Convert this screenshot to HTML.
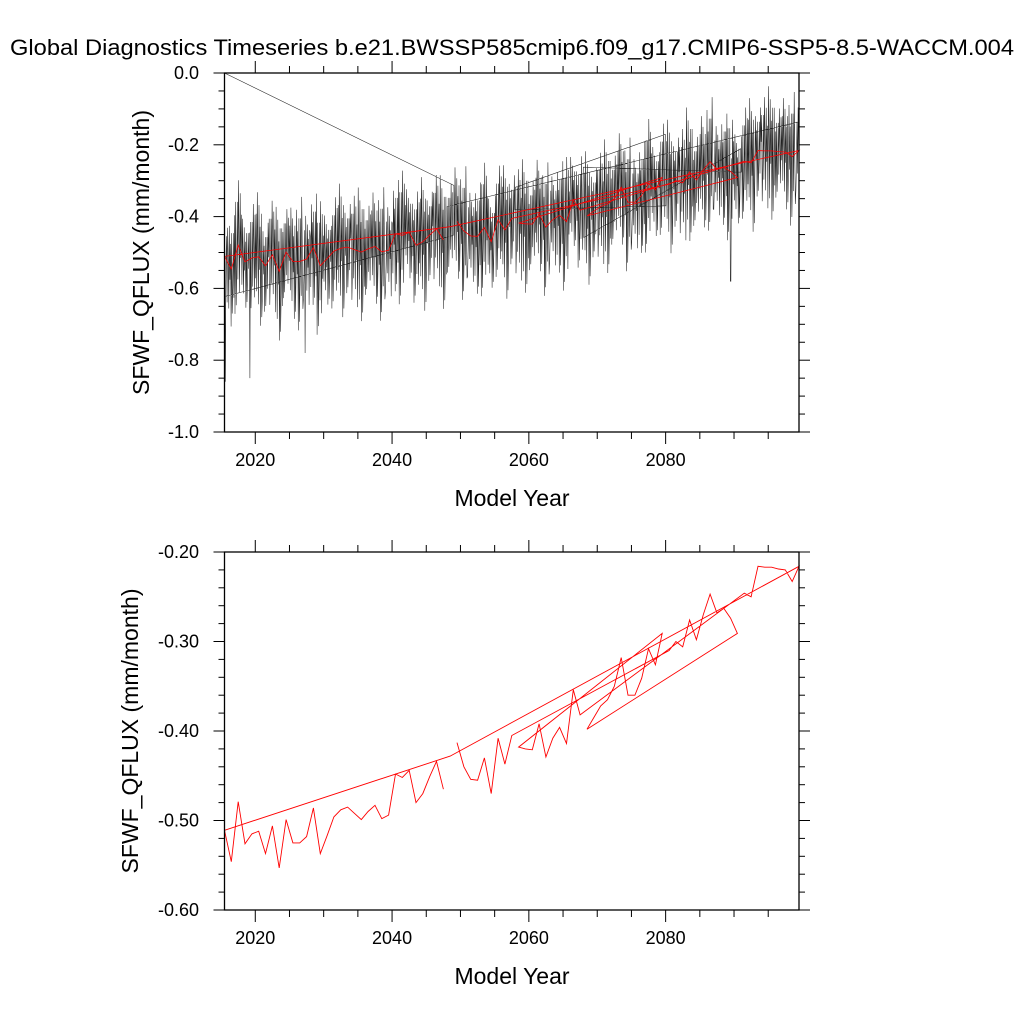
<!DOCTYPE html>
<html><head><meta charset="utf-8">
<style>
html,body{margin:0;padding:0;background:#fff;}
svg{display:block;font-family:"Liberation Sans",Arial,sans-serif;}
</style></head>
<body>
<svg id="chart" width="1024" height="1024" viewBox="0 0 1024 1024" xmlns="http://www.w3.org/2000/svg">
<text x="512" y="55" font-size="22" text-anchor="middle" textLength="1004" lengthAdjust="spacingAndGlyphs">Global Diagnostics Timeseries b.e21.BWSSP585cmip6.f09_g17.CMIP6-SSP5-8.5-WACCM.004</text>
<g id="top"></g>
<g id="bot"></g>
</svg>
<script>
// ---- data ----
const years = [2015.5,2016.5,2017.5,2018.5,2019.5,2020.5,2021.5,2022.5,2023.5,2024.5,2025.5,2026.5,2027.5,2028.5,2029.5,2030.5,2031.5,2032.5,2033.5,2034.5,2035.5,2036.5,2037.5,2038.5,2039.5,2040.5,2041.5,2042.5,2043.5,2044.5,2045.5,2046.5,2047.5,2048.5,2049.5,2050.5,2051.5,2052.5,2053.5,2054.5,2055.5,2056.5,2057.5,2058.5,2059.5,2060.5,2061.5,2062.5,2063.5,2064.5,2065.5,2066.5,2067.5,2068.5,2069.5,2070.5,2071.5,2072.5,2073.5,2074.5,2075.5,2076.5,2077.5,2078.5,2079.5,2080.5,2081.5,2082.5,2083.5,2084.5,2085.5,2086.5,2087.5,2088.5,2089.5,2090.5,2091.5,2092.5,2093.5,2094.5,2095.5,2096.5,2097.5,2098.5,2099.5];
const annualValues = [-0.511,-0.546,-0.479,-0.526,-0.515,-0.512,-0.537,-0.506,-0.553,-0.499,-0.525,-0.525,-0.518,-0.486,-0.537,-0.517,-0.496,-0.488,-0.485,-0.492,-0.499,-0.490,-0.483,-0.498,-0.494,-0.448,-0.452,-0.444,-0.480,-0.470,-0.451,-0.434,-0.465,
-0.428,-0.413,-0.440,-0.454,-0.455,-0.430,-0.470,-0.408,-0.437,-0.405,
-0.418,-0.420,-0.421,-0.392,-0.429,-0.408,-0.396,-0.414,-0.354,-0.382,
-0.398,-0.385,-0.372,-0.365,-0.350,-0.318,-0.360,-0.360,-0.341,-0.308,-0.326,-0.291,
-0.310,-0.300,-0.306,-0.276,-0.298,-0.270,-0.247,-0.268,-0.263,-0.274,-0.291,
-0.246,-0.250,-0.216,-0.217,-0.217,-0.219,-0.220,-0.233,-0.216];
// order in which the file chunks appear (start year, end year)
const chunkStarts = [2049.5,2080.5,2068.5,2058.5,2091.5,2048.5,2015.5];
const chunkEnds   = [2057.5,2090.5,2079.5,2067.5,2099.5,2048.5,2047.5];
// monthly anomaly about the annual mean
const seasonal = [-0.14,-0.05,0.10,-0.08,0.15,0.03,-0.11,0.12,-0.03,0.07,-0.16,0.10];
const extremeTimes = [2015.6,2019.2,2089.5,2027.3,2016.6];
const extremeValues = [-0.86,-0.85,-0.58,-0.78,-0.67];
const firstMonthlyValue = 0.0;
const topTicks = ["0.0","-0.2","-0.4","-0.6","-0.8","-1.0"];
const topTickVals = [0,-0.2,-0.4,-0.6,-0.8,-1.0];
const botTicks = ["-0.20","-0.30","-0.40","-0.50","-0.60"];
const botTickVals = [-0.2,-0.3,-0.4,-0.5,-0.6];
const xTicks = ["2020","2040","2060","2080"];
const xTickVals = [2020,2040,2060,2080];

const NS="http://www.w3.org/2000/svg";
function mk(parent,tag,attrs){const e=document.createElementNS(NS,tag);for(const k in attrs)e.setAttribute(k,attrs[k]);parent.appendChild(e);return e;}

const X0=224.5,X1=799,XMIN=2015.5,XMAX=2099.5;
function sx(t){return X0+(t-XMIN)/(XMAX-XMIN)*(X1-X0);}

function panel(g,top,bottom,ymin,ymax,minorStep,tickLabels,tickVals){
  const sy=v=>top+(ymax-v)/(ymax-ymin)*(bottom-top);
  let tk=mk(g,'g',{stroke:'#000','stroke-width':1});
  
  
  for(let yr=2015;yr<=2100;yr+=5){
    const x=sx(yr); if(x<X0-0.5||x>X1+0.5)continue;
    const L=(yr%20===0)?12:7;
    mk(tk,'line',{x1:x,x2:x,y1:bottom,y2:bottom+L});
    mk(tk,'line',{x1:x,x2:x,y1:top,y2:top-L});
  }
  const n=Math.round((ymax-ymin)/minorStep);
  for(let i=0;i<=n;i++){
    const v=ymin+i*minorStep;const y=sy(v);
    const major=tickVals.some(tv=>Math.abs(tv-v)<1e-6);
    const L=major?11:6;
    mk(tk,'line',{x1:X0,x2:X0-L,y1:y,y2:y});
    mk(tk,'line',{x1:X1,x2:X1+L,y1:y,y2:y});
  }
  for(let i=0;i<tickLabels.length;i++){
    const t=mk(g,'text',{x:199,y:sy(tickVals[i])+6,'font-size':18,'text-anchor':'end'});
    t.textContent=tickLabels[i];
    
    
  }
  for(let i=0;i<xTicks.length;i++){
    const t=mk(g,'text',{x:sx(xTickVals[i]),y:bottom+34,'font-size':18,'text-anchor':'middle'});
    t.textContent=xTicks[i];
    
    
  }
  const xt=mk(g,'text',{x:512,y:bottom+74,'font-size':23,'text-anchor':'middle'});
  xt.textContent='Model Year';
  
  
  const cy=(top+bottom)/2;
  const yt=mk(g,'text',{x:0,y:0,'font-size':23,'text-anchor':'middle',transform:`translate(${top<300?149:138},${cy}) rotate(-90)`});
  yt.textContent='SFWF_QFLUX (mm/month)';
  
  
  return sy;
}

function annualPath(sy){
  let pts=[];
  for(let c=0;c<chunkStarts.length;c++){
    for(let i=0;i<years.length;i++){
      if(years[i]>=chunkStarts[c]-1e-6&&years[i]<=chunkEnds[c]+1e-6)pts.push([sx(years[i]),sy(annualValues[i])]);
    }
  }
  return 'M'+pts.map(p=>p[0].toFixed(1)+','+p[1].toFixed(1)).join('L');
}
function monthlyPath(sy){
  let pts=[[sx(XMIN),sy(firstMonthlyValue)]];
  for(let c=0;c<chunkStarts.length;c++){
    for(let i=0;i<years.length;i++){
      if(years[i]>=chunkStarts[c]-1e-6&&years[i]<=chunkEnds[c]+1e-6){
        for(let m=0;m<12;m++){
          const t=years[i]-0.5+(m+0.5)/12;
          let v=annualValues[i]+seasonal[(m+i*5)%12]*(1+0.4*((i%3)-1)*0.5);
          for(let k=0;k<extremeTimes.length;k++) if(Math.abs(extremeTimes[k]-t)<1/24) v=extremeValues[k];
          pts.push([sx(Math.max(XMIN,Math.min(XMAX,t))),sy(v)]);
        }
      }
    }
  }
  return 'M'+pts.map(p=>p[0].toFixed(1)+','+p[1].toFixed(1)).join('L');
}

// top panel
const gt=document.getElementById('top');
const syT=panel(gt,73,432,-1.0,0.0,0.05,topTicks,topTickVals);
const blk=mk(gt,'path',{d:monthlyPath(syT),fill:'none',stroke:'#222','stroke-width':0.55});


const redT=mk(gt,'path',{d:annualPath(syT),fill:'none',stroke:'#ff0000','stroke-width':0.8});


const frT=mk(gt,'rect',{x:X0,y:73,width:X1-X0,height:359,fill:'none',stroke:'#000','stroke-width':1.3});



// bottom panel
const gb=document.getElementById('bot');
const syB=panel(gb,552,910,-0.6,-0.2,0.02,botTicks,botTickVals);
const redB=mk(gb,'path',{d:annualPath(syB),fill:'none',stroke:'#ff0000','stroke-width':0.9});


const frB=mk(gb,'rect',{x:X0,y:552,width:X1-X0,height:358,fill:'none',stroke:'#000','stroke-width':1.3});


</script>
</body></html>
